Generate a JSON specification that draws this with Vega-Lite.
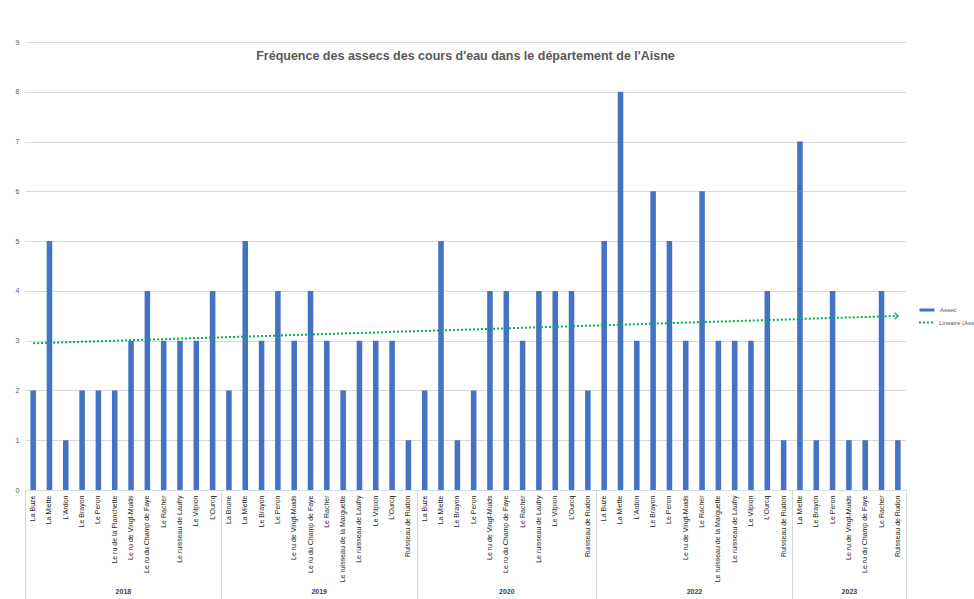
{
  "$schema": "https://vega.github.io/schema/vega-lite/v6.json",
  "width": 881,
  "height": 448,
  "autosize": "none",
  "padding": {"left": 25, "top": 42, "right": 68, "bottom": 109},
  "background": "white",
  "config": {
    "font": "Liberation Sans",
    "view": {"stroke": null},
    "axis": {"labelColor": "#404040", "labelFont": "Liberation Sans"}
  },
  "title": {
    "text": "Fréquence des assecs des cours d'eau dans le département de l'Aisne",
    "fontSize": 12.5,
    "fontWeight": "bold",
    "color": "#595959",
    "anchor": "middle",
    "baseline": "top",
    "offset": -24
  },
  "data": {
    "values": [
      {"annee": "2018", "cours": "La Buze", "assec": 2},
      {"annee": "2018", "cours": "La Miette", "assec": 5},
      {"annee": "2018", "cours": "L'Ardon", "assec": 1},
      {"annee": "2018", "cours": "Le Brayon", "assec": 2},
      {"annee": "2018", "cours": "Le Peron", "assec": 2},
      {"annee": "2018", "cours": "Le ru de la Planchette", "assec": 2},
      {"annee": "2018", "cours": "Le ru de Vingt-Muids", "assec": 3},
      {"annee": "2018", "cours": "Le ru du Champ de Faye", "assec": 4},
      {"annee": "2018", "cours": "Le Racher", "assec": 3},
      {"annee": "2018", "cours": "Le ruisseau de Laufry", "assec": 3},
      {"annee": "2018", "cours": "Le Vilpion", "assec": 3},
      {"annee": "2018", "cours": "L'Ourcq", "assec": 4},
      {"annee": "2019", "cours": "La Brune", "assec": 2},
      {"annee": "2019", "cours": "La Miette", "assec": 5},
      {"annee": "2019", "cours": "Le Brayon", "assec": 3},
      {"annee": "2019", "cours": "Le Peron", "assec": 4},
      {"annee": "2019", "cours": "Le ru de Vingt-Muids", "assec": 3},
      {"annee": "2019", "cours": "Le ru du Champ de Faye", "assec": 4},
      {"annee": "2019", "cours": "Le Racher", "assec": 3},
      {"annee": "2019", "cours": "Le ruisseau de la Marguette", "assec": 2},
      {"annee": "2019", "cours": "Le ruisseau de Laufry", "assec": 3},
      {"annee": "2019", "cours": "Le Vilpion", "assec": 3},
      {"annee": "2019", "cours": "L'Ourcq", "assec": 3},
      {"annee": "2019", "cours": "Ruisseau de Rudon", "assec": 1},
      {"annee": "2020", "cours": "La Buze", "assec": 2},
      {"annee": "2020", "cours": "La Miette", "assec": 5},
      {"annee": "2020", "cours": "Le Brayon", "assec": 1},
      {"annee": "2020", "cours": "Le Peron", "assec": 2},
      {"annee": "2020", "cours": "Le ru de Vingt-Muids", "assec": 4},
      {"annee": "2020", "cours": "Le ru du Champ de Faye", "assec": 4},
      {"annee": "2020", "cours": "Le Racher", "assec": 3},
      {"annee": "2020", "cours": "Le ruisseau de Laufry", "assec": 4},
      {"annee": "2020", "cours": "Le Vilpion", "assec": 4},
      {"annee": "2020", "cours": "L'Ourcq", "assec": 4},
      {"annee": "2020", "cours": "Ruisseau de Rudon", "assec": 2},
      {"annee": "2022", "cours": "La Buze", "assec": 5},
      {"annee": "2022", "cours": "La Miette", "assec": 8},
      {"annee": "2022", "cours": "L'Ardon", "assec": 3},
      {"annee": "2022", "cours": "Le Brayon", "assec": 6},
      {"annee": "2022", "cours": "Le Peron", "assec": 5},
      {"annee": "2022", "cours": "Le ru de Vingt-Muids", "assec": 3},
      {"annee": "2022", "cours": "Le Racher", "assec": 6},
      {"annee": "2022", "cours": "Le ruisseau de la Marguette", "assec": 3},
      {"annee": "2022", "cours": "Le ruisseau de Laufry", "assec": 3},
      {"annee": "2022", "cours": "Le Vilpion", "assec": 3},
      {"annee": "2022", "cours": "L'Ourcq", "assec": 4},
      {"annee": "2022", "cours": "Ruisseau de Rudon", "assec": 1},
      {"annee": "2023", "cours": "La Miette", "assec": 7},
      {"annee": "2023", "cours": "Le Brayon", "assec": 1},
      {"annee": "2023", "cours": "Le Peron", "assec": 4},
      {"annee": "2023", "cours": "Le ru de Vingt-Muids", "assec": 1},
      {"annee": "2023", "cours": "Le ru du Champ de Faye", "assec": 1},
      {"annee": "2023", "cours": "Le Racher", "assec": 4},
      {"annee": "2023", "cours": "Ruisseau de Rudon", "assec": 1}
    ]
  },
  "transform": [
    {"window": [{"op": "row_number", "as": "rang"}]},
    {"calculate": "datum.annee + '|' + datum.cours", "as": "cle"}
  ],
  "layer": [
    {
      "mark": {"type": "bar", "color": "#4472C4"},
      "encoding": {
        "x": {
          "field": "cle",
          "type": "nominal",
          "sort": null,
          "scale": {"paddingInner": 0.66, "paddingOuter": 0.33},
          "axis": {
            "orient": "bottom",
            "title": null,
            "labelExpr": "split(datum.value, '|')[1]",
            "labelAngle": -90,
            "labelFontSize": 7,
            "labelPadding": 5,
            "ticks": false,
            "domainColor": "#D9D9D9",
            "labelColor": "#262626"
          }
        },
        "y": {
          "field": "assec",
          "type": "quantitative",
          "scale": {"domain": [0, 9], "nice": false},
          "axis": {
            "title": null,
            "values": [0, 1, 2, 3, 4, 5, 6, 7, 8, 9],
            "labelFontSize": 7,
            "labelColor": "#595959",
            "labelPadding": 6,
            "ticks": false,
            "domain": false,
            "gridColor": "#D9D9D9"
          }
        },
        "fill": {
          "datum": "Assec",
          "scale": {"range": ["#4472C4"]},
          "legend": {
            "title": null,
            "orient": "none",
            "legendX": 893,
            "legendY": 259,
            "symbolType": "stroke",
            "symbolSize": 225,
            "symbolStrokeWidth": 3,
            "symbolStrokeColor": "#4472C4",
            "labelFontSize": 6,
            "labelColor": "#595959",
            "labelOffset": 4
          }
        }
      }
    },
    {
      "transform": [
        {"regression": "assec", "on": "rang", "method": "linear", "extent": [1, 54]}
      ],
      "mark": {"type": "line", "strokeDash": [2, 2], "strokeWidth": 2},
      "encoding": {
        "x": {
          "field": "rang",
          "type": "quantitative",
          "scale": {"domain": [0.5, 54.5], "nice": false, "zero": false},
          "axis": {
            "orient": "bottom",
            "title": null,
            "values": [0.5, 12.5, 24.5, 35.5, 47.5, 54.5],
            "labels": false,
            "grid": false,
            "domain": false,
            "ticks": true,
            "tickSize": 112,
            "tickColor": "#D9D9D9"
          }
        },
        "y": {"field": "assec", "type": "quantitative"},
        "stroke": {
          "datum": "Linéaire (Assec)",
          "scale": {"range": ["#00B050"]},
          "legend": {
            "title": null,
            "orient": "none",
            "legendX": 893,
            "legendY": 272,
            "symbolType": "stroke",
            "symbolSize": 225,
            "symbolStrokeWidth": 2,
            "symbolDash": [2, 2],
            "labelFontSize": 6,
            "labelColor": "#595959",
            "labelOffset": 4
          }
        }
      }
    },
    {
      "transform": [
        {"regression": "assec", "on": "rang", "method": "linear", "extent": [1, 54]},
        {"filter": "datum.rang > 50"}
      ],
      "mark": {
        "type": "point",
        "shape": "M-1,-1L0,0L-1,1",
        "filled": false,
        "size": 40,
        "strokeWidth": 2,
        "color": "#00B050"
      },
      "encoding": {
        "x": {
          "field": "rang",
          "type": "quantitative",
          "scale": {"domain": [0.5, 54.5], "nice": false, "zero": false},
          "axis": {
            "orient": "bottom",
            "title": null,
            "values": [6.5, 18.5, 30, 41.5, 51],
            "labelExpr": "datum.value < 12 ? '2018' : datum.value < 24 ? '2019' : datum.value < 35 ? '2020' : datum.value < 47 ? '2022' : '2023'",
            "labelFontSize": 7,
            "labelFontWeight": "bold",
            "labelColor": "#404040",
            "labelPadding": 97,
            "ticks": false,
            "domain": false,
            "grid": false
          }
        },
        "y": {"field": "assec", "type": "quantitative"}
      }
    }
  ],
  "resolve": {"scale": {"x": "independent"}}
}
